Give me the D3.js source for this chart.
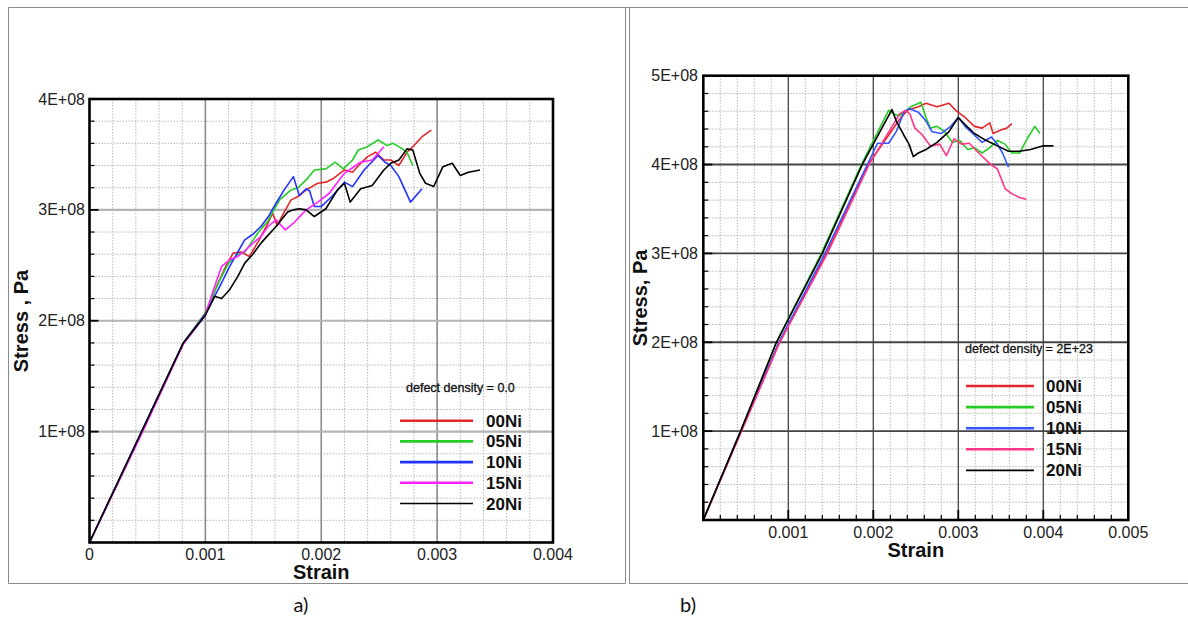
<!DOCTYPE html>
<head>
  <meta charset="utf-8">
  <style>
    body { margin: 0; background: #fff; }
    svg { display: block; font-family: 'Liberation Sans', Arial, sans-serif; }
    .tick-label { font-size: 16px; fill: #222; }
    .axis-title { font-size: 20px; font-weight: bold; fill: #111; }
    .legend-head { font-size: 12.5px; fill: #111; stroke: #111; stroke-width: .3px; }
    .legend-label { font-size: 17px; font-weight: bold; fill: #111; }
    .caption { font-family: Lato, 'Open Sans', sans-serif; font-size: 20px; fill: #111; }
  </style>
  <script src="https://cdn.jsdelivr.net/npm/d3@7/dist/d3.min.js"></script>
</head>
<body>
<div id=chart></div>
<script>
// stress values are in units of 1E+08 Pa
const names = ['00Ni', '05Ni', '10Ni', '15Ni', '20Ni']
const colors_a = ['#e3262a', '#25cc25', '#2233ff', '#ff22ff', '#000000']
const colors_b = ['#e3262a', '#25cc25', '#3355ff', '#ff3388', '#000000']

const a00 = [[0,0],[0.00045,1.0],[0.00081,1.8],[0.001,2.07],[0.00111,2.34],[0.00118,2.5],[0.00124,2.61],[0.00131,2.62],[0.00138,2.58],[0.00146,2.72],[0.00154,2.88],[0.00158,2.97],[0.00162,2.86],[0.00168,2.98],[0.00174,3.09],[0.0018,3.12],[0.00187,3.18],[0.00197,3.24],[0.00204,3.25],[0.0021,3.28],[0.0022,3.36],[0.00227,3.34],[0.00234,3.42],[0.0024,3.48],[0.00247,3.52],[0.00254,3.45],[0.0026,3.45],[0.00267,3.40],[0.00274,3.52],[0.0028,3.58],[0.00287,3.66],[0.00295,3.72]]
const a05 = [[0,0],[0.00045,1.0],[0.00081,1.8],[0.001,2.07],[0.00112,2.36],[0.0012,2.52],[0.00128,2.6],[0.00134,2.62],[0.00138,2.68],[0.00146,2.8],[0.00154,2.9],[0.00164,3.09],[0.00174,3.18],[0.0018,3.2],[0.00187,3.27],[0.00194,3.36],[0.00204,3.37],[0.00212,3.43],[0.00219,3.37],[0.00227,3.45],[0.00232,3.54],[0.0024,3.57],[0.00249,3.63],[0.00257,3.58],[0.00262,3.6],[0.00267,3.57],[0.00274,3.52],[0.00279,3.40]]
const a10 = [[0,0],[0.00045,1.0],[0.00081,1.8],[0.001,2.06],[0.00112,2.3],[0.00121,2.49],[0.00128,2.62],[0.00134,2.73],[0.00141,2.78],[0.00148,2.85],[0.00155,2.95],[0.00161,3.06],[0.00168,3.18],[0.00176,3.3],[0.00181,3.13],[0.00187,3.19],[0.0019,3.17],[0.00194,3.03],[0.002,3.03],[0.0021,3.13],[0.0022,3.25],[0.00227,3.21],[0.00237,3.36],[0.00249,3.49],[0.00255,3.43],[0.0026,3.40],[0.00267,3.3],[0.00277,3.07],[0.00287,3.19]]
const a15 = [[0,0],[0.00045,0.98],[0.00081,1.79],[0.001,2.05],[0.00107,2.28],[0.00114,2.49],[0.00121,2.55],[0.00128,2.58],[0.00134,2.63],[0.00141,2.7],[0.00148,2.76],[0.00154,2.85],[0.00161,2.91],[0.00169,2.82],[0.00177,2.89],[0.00187,3.0],[0.00197,3.07],[0.00207,3.15],[0.00214,3.25],[0.0022,3.33],[0.00227,3.38],[0.00234,3.43],[0.00244,3.45],[0.00254,3.57]]
const a20 = [[0,0],[0.00045,1.0],[0.00081,1.8],[0.001,2.05],[0.00108,2.22],[0.00114,2.2],[0.00121,2.28],[0.00128,2.4],[0.00134,2.52],[0.00141,2.6],[0.00148,2.7],[0.00154,2.77],[0.00161,2.85],[0.00171,2.98],[0.00176,3.0],[0.00181,3.01],[0.00187,3.0],[0.00194,2.94],[0.00204,3.01],[0.00214,3.18],[0.0022,3.24],[0.00225,3.07],[0.00234,3.19],[0.00244,3.22],[0.00254,3.36],[0.0026,3.42],[0.00267,3.45],[0.00274,3.55],[0.00279,3.54],[0.00285,3.33],[0.0029,3.24],[0.00297,3.21],[0.00305,3.39],[0.00313,3.42],[0.0032,3.31],[0.00327,3.34],[0.00337,3.36]]

const b00 = [[0,0],[0.00044,1.0],[0.00089,2.0],[0.00145,3.0],[0.00194,4.0],[0.00231,4.51],[0.0024,4.61],[0.00253,4.65],[0.00262,4.69],[0.00275,4.65],[0.00282,4.67],[0.00289,4.69],[0.00297,4.61],[0.00308,4.53],[0.00319,4.43],[0.00328,4.41],[0.00337,4.47],[0.00341,4.35],[0.0035,4.39],[0.00357,4.41],[0.00363,4.46]]
const b05 = [[0,0],[0.00044,1.0],[0.00086,2.0],[0.00139,3.0],[0.00186,4.0],[0.00218,4.61],[0.00224,4.57],[0.00231,4.55],[0.00244,4.65],[0.00256,4.7],[0.00262,4.53],[0.00267,4.41],[0.00275,4.43],[0.00284,4.37],[0.00293,4.25],[0.00302,4.27],[0.00311,4.17],[0.00319,4.19],[0.00328,4.13],[0.00337,4.19],[0.00346,4.27],[0.00355,4.23],[0.00363,4.13],[0.00372,4.13],[0.00381,4.29],[0.0039,4.43],[0.00396,4.35]]
const b10 = [[0,0],[0.00044,1.0],[0.00089,2.0],[0.00143,3.0],[0.00193,4.0],[0.00205,4.24],[0.00218,4.24],[0.00227,4.37],[0.00236,4.59],[0.00242,4.63],[0.00253,4.59],[0.00262,4.49],[0.00269,4.37],[0.0028,4.35],[0.00291,4.43],[0.003,4.53],[0.00308,4.43],[0.00319,4.33],[0.00328,4.25],[0.00339,4.31],[0.00346,4.23],[0.00352,4.13],[0.00359,3.97]]
const b15 = [[0,0],[0.00045,1.0],[0.0009,2.0],[0.00146,3.0],[0.00195,4.0],[0.00231,4.57],[0.00238,4.61],[0.00243,4.57],[0.00249,4.41],[0.00258,4.33],[0.00267,4.21],[0.00278,4.23],[0.00286,4.1],[0.00295,4.29],[0.00304,4.23],[0.00313,4.24],[0.00324,4.13],[0.00337,4.01],[0.00346,3.95],[0.00355,3.73],[0.00363,3.67],[0.00372,3.63],[0.0038,3.61]]
const b20 = [[0,0],[0.00044,1.0],[0.00086,2.0],[0.0014,3.0],[0.00187,4.0],[0.00222,4.62],[0.00227,4.49],[0.00236,4.33],[0.00242,4.23],[0.00247,4.09],[0.00253,4.13],[0.00262,4.17],[0.00275,4.25],[0.00289,4.37],[0.003,4.53],[0.00308,4.45],[0.00319,4.35],[0.00333,4.27],[0.00346,4.21],[0.00359,4.15],[0.00372,4.15],[0.00385,4.17],[0.00399,4.21],[0.00412,4.21]]

const xticks_a = [0, 0.001, 0.002, 0.003, 0.004]
const yticks_a = [1, 2, 3, 4]
const xticks_b = [0.001, 0.002, 0.003, 0.004, 0.005]
const yticks_b = [1, 2, 3, 4, 5]

const W = 1188, H = 619
const svg = d3.select('#chart').append('svg').attr('width', W).attr('height', H)

// outer table frame
const frame = svg.append('g').attr('fill', 'none').attr('stroke', '#8a8a8a').attr('stroke-width', 1)
frame.append('path').attr('d', 'M8.5,583.5V7.5H1188')
frame.append('path').attr('d', 'M625.5,7.5V583.5H8.5')
frame.append('path').attr('d', 'M629.5,7.5V583.5H1188')

const panels = [
  {
    box: [89.5, 99, 553, 542.5], xmax: 0.004, ymax: 4,
    xticks: xticks_a, yticks: yticks_a, series: [a00, a05, a10, a15, a20], colors: colors_a,
    majorX: '#8a8a8a', majorY: '#b4b4b4', majorW: 1.6, bottomTicks: false,
    ytitle: 'Stress , Pa', ytitleX: 28, ytitleY: 321, xtitleY: 579, xlabY: 560, ylabX: 85,
    legend: { head: 'defect density = 0.0', hx: 406, hy: 392, x0: 400, x1: 473, lx: 486, y0: 420.7, dy: 20.7 },
    caption: ['a)', 301, 612],
  },
  {
    box: [703.3, 75.7, 1128.3, 520], xmax: 0.005, ymax: 5,
    xticks: xticks_b, yticks: yticks_b, series: [b00, b05, b10, b15, b20], colors: colors_b,
    majorX: '#444', majorY: '#444', majorW: 1.3, bottomTicks: true,
    ytitle: 'Stress, Pa', ytitleX: 647, ytitleY: 298, xtitleY: 557, xlabY: 538, ylabX: 698,
    legend: { head: 'defect density = 2E+23', hx: 965, hy: 353, x0: 966, x1: 1034, lx: 1046, y0: 386, dy: 21.1 },
    caption: ['b)', 688, 612],
  },
]

panels.forEach(p => {
  const [x0, y0, x1, y1] = p.box
  const x = d3.scaleLinear([0, p.xmax], [x0, x1])
  const y = d3.scaleLinear([0, p.ymax], [y1, y0])
  const g = svg.append('g')

  // minor grid (dotted)
  const xminor = d3.range(0, p.xmax + 1e-9, 0.0002).filter(v => Math.abs(v / 0.001 - Math.round(v / 0.001)) > 1e-6)
  const yminor = d3.range(0, p.ymax + 1e-9, 0.2).filter(v => Math.abs(v - Math.round(v)) > 1e-6)
  g.append('g').attr('stroke', '#b8b8b8').attr('stroke-width', 1).attr('stroke-dasharray', '1.5,1.5')
    .call(s => s.selectAll('.vx').data(xminor).join('line')
      .attr('x1', d => x(d)).attr('x2', d => x(d)).attr('y1', y0).attr('y2', y1))
    .call(s => s.selectAll('.hy').data(yminor).join('line')
      .attr('y1', d => y(d)).attr('y2', d => y(d)).attr('x1', x0).attr('x2', x1))

  // major grid
  const xmajor = d3.range(1, Math.round(p.xmax / 0.001)).map(i => i * 0.001)
  const ymajor = d3.range(1, p.ymax)
  g.append('g').selectAll('line').data(xmajor).join('line')
    .attr('x1', d => x(d)).attr('x2', d => x(d)).attr('y1', y0).attr('y2', y1)
    .attr('stroke', p.majorX).attr('stroke-width', p.majorW)
  g.append('g').selectAll('line').data(ymajor).join('line')
    .attr('y1', d => y(d)).attr('y2', d => y(d)).attr('x1', x0).attr('x2', x1)
    .attr('stroke', p.majorY).attr('stroke-width', p.majorW + 0.6)

  // inward ticks
  const ticks = g.append('g').attr('stroke', '#000').attr('stroke-width', 1.2)
  ticks.selectAll('.ly').data(yminor).join('line')
    .attr('x1', x0).attr('x2', x0 + 5).attr('y1', d => y(d)).attr('y2', d => y(d))
  ticks.selectAll('.lY').data(ymajor).join('line')
    .attr('x1', x0).attr('x2', x0 + 9).attr('y1', d => y(d)).attr('y2', d => y(d)).attr('stroke-width', 1.8)
  if (p.bottomTicks) {
    ticks.selectAll('.bx').data(xminor).join('line')
      .attr('x1', d => x(d)).attr('x2', d => x(d)).attr('y1', y1).attr('y2', y1 - 5)
    ticks.selectAll('.bX').data(xmajor).join('line')
      .attr('x1', d => x(d)).attr('x2', d => x(d)).attr('y1', y1).attr('y2', y1 - 10).attr('stroke-width', 1.8)
  }

  // curves
  const line = d3.line().x(d => x(d[0])).y(d => y(d[1]))
  g.append('g').attr('fill', 'none').attr('stroke-linejoin', 'round')
    .selectAll('path').data(p.series).join('path')
    .attr('d', line).attr('stroke', (d, i) => p.colors[i]).attr('stroke-width', 1.6)

  // plot frame
  g.append('rect').attr('x', x0).attr('y', y0).attr('width', x1 - x0).attr('height', y1 - y0)
    .attr('fill', 'none').attr('stroke', '#000').attr('stroke-width', 2.6)

  // tick labels
  g.append('g').selectAll('text').data(p.xticks).join('text').attr('class', 'tick-label')
    .attr('x', d => x(d)).attr('y', p.xlabY).attr('text-anchor', 'middle')
    .text(d => d === 0 ? '0' : d3.format('.3f')(d))
  g.append('g').selectAll('text').data(p.yticks).join('text').attr('class', 'tick-label')
    .attr('x', p.ylabX).attr('y', d => y(d) + 5.5).attr('text-anchor', 'end')
    .text(d => `${d}E+08`)

  // titles
  g.append('text').attr('class', 'axis-title').attr('x', (x0 + x1) / 2).attr('y', p.xtitleY)
    .attr('text-anchor', 'middle').text('Strain')
  g.append('text').attr('class', 'axis-title').attr('text-anchor', 'middle')
    .attr('transform', `translate(${p.ytitleX},${p.ytitleY}) rotate(-90)`).text(p.ytitle)

  // legend
  const L = p.legend
  g.append('text').attr('class', 'legend-head').attr('x', L.hx).attr('y', L.hy).text(L.head)
  const items = g.append('g').selectAll('g').data(names).join('g')
    .attr('transform', (d, i) => `translate(0,${L.y0 + i * L.dy})`)
  items.append('line').attr('x1', L.x0).attr('x2', L.x1)
    .attr('stroke', (d, i) => p.colors[i]).attr('stroke-width', (d, i) => i === 4 ? 1.6 : 2.6)
  items.append('text').attr('class', 'legend-label').attr('x', L.lx).attr('y', 6).text(d => d)

  svg.append('text').attr('class', 'caption').attr('x', p.caption[1]).attr('y', p.caption[2])
    .attr('text-anchor', 'middle').text(p.caption[0])
})
</script>
</body>
